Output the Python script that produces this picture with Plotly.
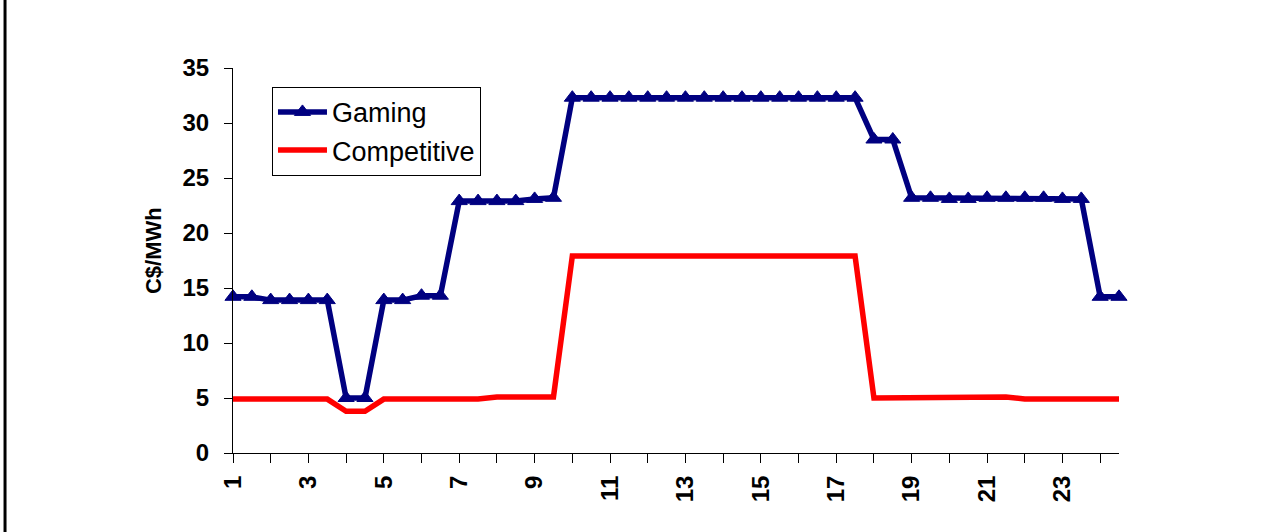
import plotly.graph_objects as go

# Half-hourly periods across the day
periods = [1, 1.5, 2, 2.5, 3, 3.5, 4, 4.5, 5, 5.5, 6, 6.5,
           7, 7.5, 8, 8.5, 9, 9.5, 10, 10.5, 11, 11.5, 12, 12.5,
           13, 13.5, 14, 14.5, 15, 15.5, 16, 16.5, 17, 17.5, 18, 18.5,
           19, 19.5, 20, 20.5, 21, 21.5, 22, 22.5, 23, 23.5, 24, 24.5]

# Prices, C$/MWh
gaming = [14.2, 14.2, 13.9, 13.9, 13.9, 13.9, 5.0, 5.0, 13.9, 13.9, 14.3, 14.3,
          22.9, 22.9, 22.9, 22.9, 23.1, 23.2, 32.3, 32.3, 32.3, 32.3, 32.3, 32.3,
          32.3, 32.3, 32.3, 32.3, 32.3, 32.3, 32.3, 32.3, 32.3, 32.3, 28.5, 28.5,
          23.2, 23.2, 23.1, 23.1, 23.2, 23.2, 23.2, 23.2, 23.1, 23.1, 14.2, 14.2]

competitive = [4.9, 4.9, 4.9, 4.9, 4.9, 4.9, 3.8, 3.8, 4.9, 4.9, 4.9, 4.9,
               4.9, 4.9, 5.1, 5.1, 5.1, 5.1, 17.9, 17.9, 17.9, 17.9, 17.9, 17.9,
               17.9, 17.9, 17.9, 17.9, 17.9, 17.9, 17.9, 17.9, 17.9, 17.9, 5.0, 5.0,
               5.1, 5.1, 5.1, 5.1, 5.1, 5.1, 4.9, 4.9, 4.9, 4.9, 4.9, 4.9]

hour_ticks = list(range(1, 25))
hour_labels = [str(h) if h % 2 == 1 else "" for h in hour_ticks]
price_ticks = [0, 5, 10, 15, 20, 25, 30, 35]

FONT = "Arial, 'Liberation Sans', sans-serif"
NAVY = "#000080"
RED = "#FF0000"

fig = go.Figure()
fig.add_trace(go.Scatter(
    x=periods, y=gaming, name="Gaming", mode="lines+markers",
    line=dict(color=NAVY, width=5.5),
    marker=dict(symbol="triangle-up", size=14, color=NAVY,
                line=dict(color=NAVY, width=1)),
    cliponaxis=False,
))
fig.add_trace(go.Scatter(
    x=periods, y=competitive, name="Competitive", mode="lines",
    line=dict(color=RED, width=5.5),
    cliponaxis=False,
))

axis_common = dict(showgrid=False, zeroline=False, linecolor="black",
                   linewidth=1, tickcolor="black", tickwidth=1)

fig.update_layout(
    width=1265, height=532,
    margin=dict(l=233, r=146, t=68, b=79),
    paper_bgcolor="white", plot_bgcolor="white",
    font=dict(family=FONT, color="black"),
    showlegend=True,
    legend=dict(
        x=0.044, y=0.951, xanchor="left", yanchor="top",
        bgcolor="white", bordercolor="black", borderwidth=1,
        font=dict(family=FONT, size=27, color="black"),
        tracegroupgap=0, itemwidth=49,
    ),
    xaxis=dict(
        range=[1, 24.5], tickmode="array", tickvals=hour_ticks,
        ticktext=hour_labels, ticks="outside", ticklen=9,
        tickangle=-90, ticklabelstandoff=3,
        tickfont=dict(family=FONT, size=24, color="black", weight="bold"),
        showline=True, **axis_common,
    ),
    xaxis2=dict(
        range=[1, 24.5], overlaying="x", tickmode="array",
        tickvals=hour_ticks, ticks="inside", ticklen=8,
        showticklabels=False, showline=False, showgrid=False,
        zeroline=False, tickcolor="black", tickwidth=1,
    ),
    yaxis=dict(
        range=[0, 35], tickmode="array", tickvals=price_ticks,
        ticks="outside", ticklen=8, ticklabelstandoff=10,
        tickfont=dict(family=FONT, size=24, color="black", weight="bold"),
        showline=True, **axis_common,
    ),
    yaxis2=dict(
        range=[0, 35], overlaying="y", tickmode="array",
        tickvals=price_ticks, ticks="inside", ticklen=8,
        showticklabels=False, showline=False, showgrid=False,
        zeroline=False, tickcolor="black", tickwidth=1,
    ),
)

# Axis title
fig.add_annotation(
    text="<b>C$/MWh</b>", textangle=-90, showarrow=False,
    xref="paper", yref="paper", x=-0.0903, y=0.527,
    xanchor="center", yanchor="middle",
    font=dict(family=FONT, size=22, color="black"),
)

# Frame edge on the left of the page
fig.add_shape(type="line", xref="paper", yref="paper",
              x0=-0.2573, x1=-0.2573, y0=-0.3, y1=1.3,
              line=dict(color="black", width=3))

fig.write_html("out.html")
